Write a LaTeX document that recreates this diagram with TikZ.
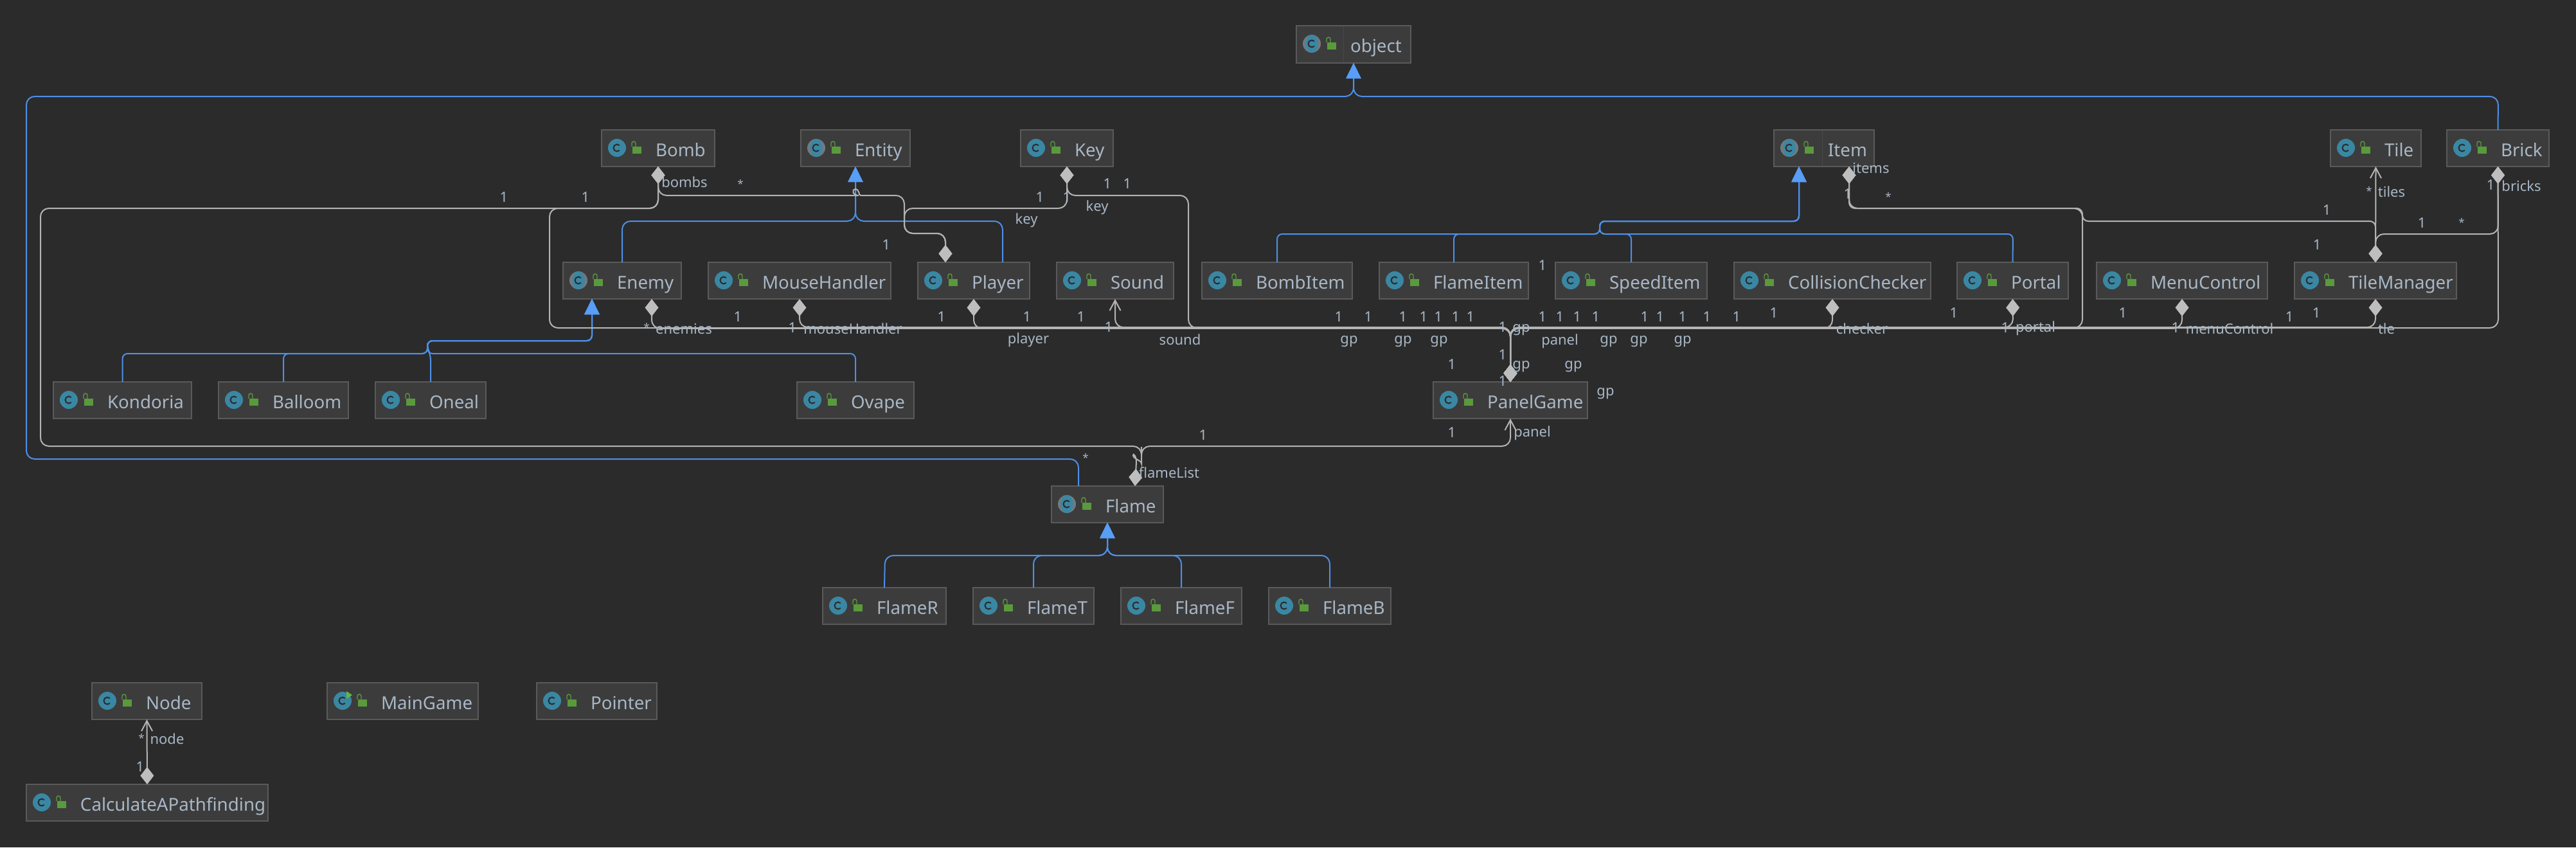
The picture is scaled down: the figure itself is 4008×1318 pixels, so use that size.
\documentclass[tikz,border=0pt]{standalone}
\usepackage{fontspec}
\setmainfont{Noto Sans}
\usetikzlibrary{arrows.meta}
\definecolor{bgc}{HTML}{2B2B2B}
\definecolor{boxc}{HTML}{3C3C3C}
\definecolor{boxl}{HTML}{5A5A5A}
\definecolor{divc}{HTML}{484848}
\definecolor{txtc}{HTML}{A9B7C6}
\definecolor{genc}{HTML}{4E8FE8}
\definecolor{gent}{HTML}{589DF6}
\definecolor{asc}{HTML}{B4B4B4}
\definecolor{dic}{HTML}{BEBEBE}
\definecolor{clsc}{HTML}{3A87A3}
\definecolor{absr}{HTML}{707A80}
\definecolor{lockc}{HTML}{5A9A3C}
\definecolor{runc}{HTML}{62B543}
\tikzset{
  x=1pt,y=-1pt,
  classbox/.style={draw=boxl,fill=boxc,line width=2pt,inner sep=0pt,outer sep=0pt,text=txtc,font=\fontsize{27.7}{30}\selectfont},
  lbl/.style={inner sep=0pt,outer sep=0pt,text=txtc,font=\fontsize{22}{24}\selectfont},
  lbls/.style={lbl,font=\fontsize{17}{20}\selectfont},
  gen/.style={draw=genc,line width=2pt,rounded corners=13pt,-{Triangle[length=24pt,width=23pt,fill=gent,color=gent]}},
  gens/.style={gen,rounded corners=8pt},
  assoc/.style={draw=asc,line width=2pt,rounded corners=13pt},
  assocs/.style={assoc,rounded corners=9pt},
  dia/.tip={Turned Square[length=27pt,width=21pt,fill=dic,color=dic]},
  opn/.tip={Straight Barb[length=16pt,width=17pt,color=asc]},
}
\newcounter{lblno}
\newcommand\lb[3]{\stepcounter{lblno}\node[lbl] (t\thelblno) at (#1,#2) {#3};}
\newcommand\lbs[2]{\stepcounter{lblno}\node[lbls] (t\thelblno) at (#1,#2) {*};}
\newcommand\icn[1]{%
  \ifcase#1\relax
    \fill[clsc] (24,28) circle[radius=14pt];
  \or
    \fill[absr] (24,28) circle[radius=14pt];
    \fill[clsc] (24,28) ellipse[x radius=9.5pt,y radius=14pt];
  \or
    \fill[clsc] (24,28) circle[radius=14pt];
    \fill[runc] (30,13) -- (39,19) -- (30,25) -- cycle;
  \fi
  \draw[bgc,line width=2pt] (24,28) ++(45:5.5pt) arc[start angle=45,end angle=315,radius=5.5pt];
  \fill[lockc] (48,26) rectangle (62,37);
  \draw[lockc,line width=1.4pt] (47,26) -- (47,21) .. controls (47,17) and (53,17) .. (53,21) -- (53,26);
}
\newcommand\cls[7]{%
  \pgfmathsetmacro\cw{#4-#2}\pgfmathsetmacro\ch{#5-#3}%
  \node[classbox,minimum width=\cw pt,minimum height=\ch pt] (#1) at ({(#2+#4)/2},{(#3+#5)/2})
    {\makebox[\cw pt][l]{\hspace{84pt}\rule[-6pt]{0pt}{37pt}\smash{#6}}};
  \begin{scope}[shift={(#2,#3)}]\icn{#7}\end{scope}
}
\begin{document}
\begin{tikzpicture}
\path[fill=bgc] (0,0) rectangle (4008,1318);
\useasboundingbox (0,0) rectangle (4008,1318);
% ---------- classes
\cls{object}{2017}{40}{2195}{98}{object}{1}
\draw[divc,line width=1pt] (2090,41) -- (2090,97);
\cls{Bomb}{936}{202}{1112}{259}{Bomb}{0}
\cls{Entity}{1246}{202}{1416}{259}{Entity}{1}
\cls{Key}{1588}{202}{1732}{259}{Key}{0}
\cls{Item}{2760}{202}{2916}{259}{Item}{1}
\draw[divc,line width=1pt] (2835,203) -- (2835,258);
\cls{Tile}{3626}{202}{3767}{259}{Tile}{0}
\cls{Brick}{3807}{202}{3966}{259}{Brick}{0}
\cls{Enemy}{876}{408}{1060}{465}{Enemy}{1}
\cls{MouseHandler}{1102}{408}{1386}{465}{MouseHandler}{0}
\cls{Player}{1428}{408}{1602}{465}{Player}{0}
\cls{Sound}{1644}{408}{1826}{465}{Sound}{0}
\cls{BombItem}{1870}{408}{2104}{465}{BombItem}{0}
\cls{FlameItem}{2146}{408}{2378}{465}{FlameItem}{0}
\cls{SpeedItem}{2420}{408}{2656}{465}{SpeedItem}{0}
\cls{CollisionChecker}{2698}{408}{3004}{465}{CollisionChecker}{0}
\cls{Portal}{3045}{408}{3218}{465}{Portal}{0}
\cls{MenuControl}{3262}{408}{3528}{465}{MenuControl}{0}
\cls{TileManager}{3570}{408}{3822}{465}{TileManager}{0}
\cls{Kondoria}{83}{594}{298}{651}{Kondoria}{0}
\cls{Balloom}{340}{594}{542}{651}{Balloom}{0}
\cls{Oneal}{584}{594}{756}{651}{Oneal}{0}
\cls{Ovape}{1240}{594}{1422}{651}{Ovape}{0}
\cls{PanelGame}{2230}{594}{2470}{651}{PanelGame}{0}
\cls{Flame}{1636}{756}{1810}{813}{Flame}{1}
\cls{FlameR}{1280}{914}{1472}{971}{FlameR}{0}
\cls{FlameT}{1514}{914}{1702}{971}{FlameT}{0}
\cls{FlameF}{1744}{914}{1932}{971}{FlameF}{0}
\cls{FlameB}{1974}{914}{2164}{971}{FlameB}{0}
\cls{Node}{143}{1062}{314}{1119}{Node}{0}
\cls{MainGame}{509}{1062}{744}{1119}{MainGame}{2}
\cls{Pointer}{835}{1062}{1022}{1119}{Pointer}{0}
\cls{Calc}{41}{1220}{417}{1277}{CalculateAPathfinding}{0}
% ---------- generalisation connectors
\draw[gen] (Brick.north) -- (3887,150) -- (2106,150) -- (object.south);
\draw[gen] ([xshift=-45pt]Flame.north) -- (1678,714) -- (41,714) -- (41,150) -- (2106,150) -- (object.south);
\draw[gen] (Enemy.north) -- (968,344) -- (1331,344) -- (Entity.south);
\draw[gen] ([xshift=45pt]Player.north) -- (1560,344) -- (1331,344) -- (Entity.south);
\draw[gens] (BombItem.north) -- (1987,364) -- (2489,364) -- (2489,344) -- (2799,344) -- ([xshift=-39pt]Item.south);
\draw[gens] (FlameItem.north) -- (2262,364) -- (2489,364) -- (2489,344) -- (2799,344) -- ([xshift=-39pt]Item.south);
\draw[gens] (SpeedItem.north) -- (2538,364) -- (2489,364) -- (2489,344) -- (2799,344) -- ([xshift=-39pt]Item.south);
\draw[gens] (Portal.north) -- (3132,364) -- (2489,364) -- (2489,344) -- (2799,344) -- ([xshift=-39pt]Item.south);
\draw[gens] (Kondoria.north) -- (190.5,550) -- (665,550) -- (665,530) -- (921,530) -- ([xshift=-47pt]Enemy.south);
\draw[gens] (Balloom.north) -- (441,550) -- (665,550) -- (665,530) -- (921,530) -- ([xshift=-47pt]Enemy.south);
\draw[gens] (Oneal.north) -- (670,552) -- (665,542) -- (665,530) -- (921,530) -- ([xshift=-47pt]Enemy.south);
\draw[gens] (Ovape.north) -- (1331,550) -- (665,550) -- (665,530) -- (921,530) -- ([xshift=-47pt]Enemy.south);
\draw[gen] (FlameR.north) -- (1377,864) -- (1723,864) -- (Flame.south);
\draw[gen] (FlameT.north) -- (1608,864) -- (1723,864) -- (Flame.south);
\draw[gen] (FlameF.north) -- (1838,864) -- (1723,864) -- (Flame.south);
\draw[gen] (FlameB.north) -- (2069,864) -- (1723,864) -- (Flame.south);
% ---------- association connectors
\draw[assoc,{dia}-{dia}] (Bomb.south) -- (1024,324) -- (855,324) -- (855,510) -- (2350,510) -- (PanelGame.north);
\draw[assoc,{dia}-{dia}] ([xshift=46pt]Enemy.south) -- (1014,510.8) -- (2350,510.8) -- (PanelGame.north);
\draw[assoc,{dia}-{dia}] (MouseHandler.south) -- (1244,509.2) -- (2350,509.2) -- (PanelGame.north);
\draw[assoc,{dia}-{dia}] (Player.south) -- (1515,510.8) -- (2350,510.8) -- (PanelGame.north);
\draw[assoc,{opn}-{dia}] (Sound.south) -- (1735,509.2) -- (2350,509.2) -- (PanelGame.north);
\draw[assoc,{dia}-{dia}] (Key.south) -- (1660,304) -- (1849,304) -- (1849,510) -- (2350,510) -- (PanelGame.north);
\draw[assoc,{dia}-{dia}] (CollisionChecker.south) -- (2851,510.8) -- (2350,510.8) -- (PanelGame.north);
\draw[assoc,{dia}-{dia}] (Portal.south) -- (3132,509.2) -- (2350,509.2) -- (PanelGame.north);
\draw[assoc,{dia}-{dia}] (MenuControl.south) -- (3395,510.8) -- (2350,510.8) -- (PanelGame.north);
\draw[assoc,{dia}-{dia}] (TileManager.south) -- (3696,509.2) -- (2350,509.2) -- (PanelGame.north);
\draw[assoc,{dia}-{dia}] (Brick.south) -- (3887,510) -- (2350,510) -- (PanelGame.north);
\draw[assoc,{dia}-{dia}] ([xshift=39pt]Item.south) -- (2877,324) -- (3240,324) -- (3240,510) -- (2350,510) -- (PanelGame.north);
\draw[assocs,{dia}-{dia}] ([xshift=39pt]Item.south) -- (2877,324) -- (3240,324) -- (3240,344) -- (3696,344) -- (TileManager.north);
\draw[assoc,{dia}-{opn}] (TileManager.north) -- (Tile.south);
\draw[assoc,{dia}-{dia}] (Brick.south) -- (3887,364) -- (3696,364) -- (TileManager.north);
\draw[assoc,{dia}-{dia}] (Key.south) -- (1660,324) -- (1407,324) -- (1407,363) -- (1471,363) -- ([xshift=-44pt]Player.north);
\draw[assoc,{dia}-{dia}] (Bomb.south) -- (1024,304) -- (1323,304) [sharp corners] .. controls (1326,304) and (1325,294) .. (1331,294) .. controls (1337,294) and (1336,304) .. (1339,304) [rounded corners=13pt] -- (1407,304) -- (1407,363) -- (1471,363) -- ([xshift=-44pt]Player.north);
\draw[assoc,{dia}-{dia}] (Bomb.south) -- (1024,324) -- (63,324) -- (63,694) -- (1776,694) -- (1776,708) [sharp corners] .. controls (1776,716) and (1763,714) .. (1763,708) .. controls (1763,704) and (1768,710) .. (1768,718) -- ([xshift=43pt]Flame.north);
\draw[assoc,{opn}-] (PanelGame.south) -- (2350,694) -- (1776,694) -- (1776,708);
\draw[assoc,{dia}-{opn}] (Calc.north) -- (Node.south);
% ---------- labels
\lb{784}{307}{1}\lb{911}{307}{1}\lb{1065}{283}{bombs}\lbs{1152}{286}
\lb{1723}{286}{1}\lb{1754}{286}{1}\lb{1618}{307}{1}\lb{1660}{307}{1}\lb{1707}{323}{key}\lb{1597}{343}{key}\lb{1379}{381}{1}\lb{2400}{413}{1}
\lb{2911}{261}{items}\lb{2875}{302}{1}\lbs{2938}{306}\lb{3620}{327}{1}\lb{3768}{347}{1}\lbs{3830}{346}\lb{3605}{381}{1}\lbs{3686}{297}\lb{3721}{298}{tiles}\lb{3875}{288}{1}\lb{3923}{289}{bricks}
\lb{1148}{493}{1}\lbs{1006}{509}\lb{1064}{511}{enemies}\lb{1233}{510}{1}\lb{1327}{511}{mouseHandler}
\lb{1465}{493}{1}\lb{1598}{493}{1}\lb{1682}{493}{1}\lb{1725}{509}{1}\lb{1600}{529}{player}\lb{1836}{528}{sound}
\lb{2083}{493}{1}\lb{2129}{493}{1}\lb{2183}{493}{1}\lb{2215}{493}{1}\lb{2238}{493}{1}\lb{2265}{493}{1}\lb{2288}{493}{1}
\lb{2400}{493}{1}\lb{2427}{493}{1}\lb{2454}{493}{1}\lb{2483}{493}{1}\lb{2559}{493}{1}\lb{2583}{493}{1}\lb{2618}{493}{1}\lb{2656}{493}{1}
\lb{2099}{531}{gp}\lb{2183}{531}{gp}\lb{2239}{531}{gp}\lb{2427}{531}{panel}\lb{2503}{531}{gp}\lb{2550}{531}{gp}\lb{2618}{531}{gp}
\lb{2338}{509}{1}\lb{2367}{513}{gp}\lb{2338}{552}{1}\lb{2367}{570}{gp}\lb{2448}{570}{gp}\lb{2259}{567}{1}\lb{2338}{593}{1}\lb{2498}{612}{gp}
\lb{2259}{673}{1}\lb{2384}{674}{panel}\lb{1872}{677}{1}\lbs{1689}{712}\lb{1819}{735}{flameList}
\lb{2702}{493}{1}\lb{2760}{487}{1}\lb{2897}{511}{checker}\lb{3040}{487}{1}\lb{3120}{510}{1}\lb{3167}{511}{portal}\lb{3303}{487}{1}\lb{3385}{510}{1}\lb{3469}{511}{menuControl}\lb{3562}{493}{1}\lb{3604}{487}{1}\lb{3713}{511}{tle}
\lbs{220}{1148}\lb{260}{1149}{node}\lb{218}{1193}{1}
\end{tikzpicture}
\end{document}
